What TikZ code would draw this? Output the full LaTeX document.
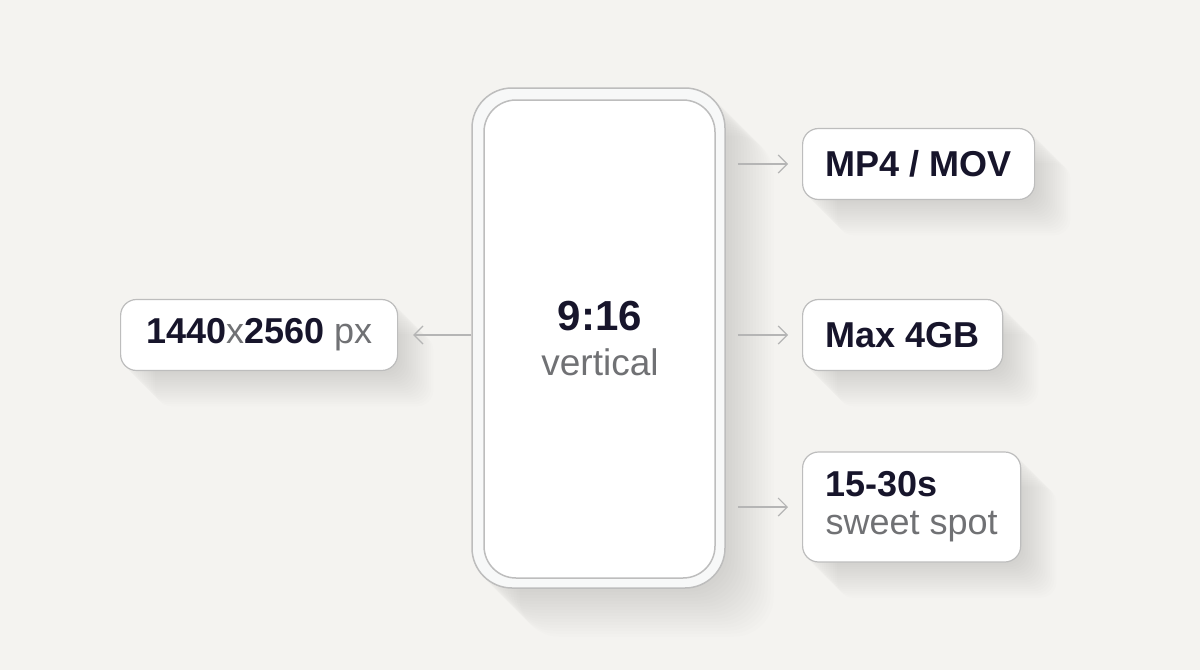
\documentclass[tikz,border=0pt]{standalone}
\usepackage{fontspec}
\setmainfont{Liberation Sans}
\usetikzlibrary{arrows.meta, backgrounds}
\definecolor{paper}{HTML}{F4F3F0}
\definecolor{ink}{HTML}{17152B}
\definecolor{soft}{HTML}{707174}
\definecolor{rim}{HTML}{BDBDBD}
\definecolor{bezel}{HTML}{F7F8F8}
\definecolor{wire}{HTML}{B5B5B5}

\begin{document}
\begin{tikzpicture}[x=0.5pt,y=-0.5pt,->,>={Straight Barb[length=4.5pt,width=9pt]},
                    line width=0.6pt]
\tikzstyle{spec}=[draw=rim,fill=white,text=ink,rounded corners=8pt,inner xsep=11.5pt,inner ysep=0pt,minimum height=35.5pt,anchor=west]
\tikzstyle{link}=[draw=wire,line width=0.6pt]
\tikzstyle{cast}=[fill=black,opacity=0.009,draw=none]
\tikzset{font=\fontsize{18pt}{18.5pt}\selectfont}

        \node[draw=rim,fill=bezel,rounded corners=20pt,minimum width=126.5pt,minimum height=250pt,line width=0.75pt]   (phone)   at (598.5,338)   {};
        \node[draw=rim,fill=white,rounded corners=16pt,minimum width=115.5pt,minimum height=239pt,line width=0.75pt]   (screen)   at (599.5,339)   {};

        \node[text=ink,font=\fontsize{21pt}{24pt}\selectfont\bfseries]             (ratio)   at (600,316)   {9:16};
        \node[text=soft,font=\fontsize{18.5pt}{22pt}\selectfont]                   (orient)  at (600,362)   {vertical};

        \node[spec,minimum width=138.5pt]   (res)    at (120,335)    {\textbf{1440}{\color{soft}x}\textbf{2560} {\color{soft}px}};
        \node[spec,minimum width=115.5pt,font=\fontsize{18pt}{18.5pt}\selectfont\bfseries]   (fmt)    at (802,164)    {MP4 / MOV};
        \node[spec,minimum width=99pt,font=\fontsize{18pt}{18.5pt}\selectfont\bfseries]   (size)   at (802,335)    {Max 4GB};
        \node[spec,align=left,minimum height=55pt,minimum width=107.5pt,font=\fontsize{18pt}{19pt}\selectfont]   (len)   at (802,507)   {\textbf{15-30s}\\{\color{soft}sweet spot}};

        \path[->]
        (phone.west |- res.east)   edge[link,shorten >=7.5pt]                  (res.east)
        (phone.east |- fmt.west)   edge[link,shorten <=6pt,shorten >=7pt]      (fmt.west)
        (phone.east |- size.west)  edge[link,shorten <=6pt,shorten >=7pt]      (size.west)
        (phone.east |- len.west)   edge[link,shorten <=6pt,shorten >=7pt]      (len.west)
        ; %end path

        \begin{pgfonlayer}{background}
        \path[use as bounding box,fill=paper] (0,0) rectangle (1200,670);
        \foreach \k in {1,...,16}{
          \fill[cast,rounded corners=20pt] ([shift={(\k*3,\k*3)}]phone.north west) rectangle ([shift={(\k*3,\k*3)}]phone.south east);
          \foreach \b in {res,fmt,size,len}
            \fill[cast,rounded corners=8pt] ([shift={(\k*2.2,\k*2.2)}]\b.north west) rectangle ([shift={(\k*2.2,\k*2.2)}]\b.south east);
        }
        \end{pgfonlayer}

\end{tikzpicture}
\end{document}
